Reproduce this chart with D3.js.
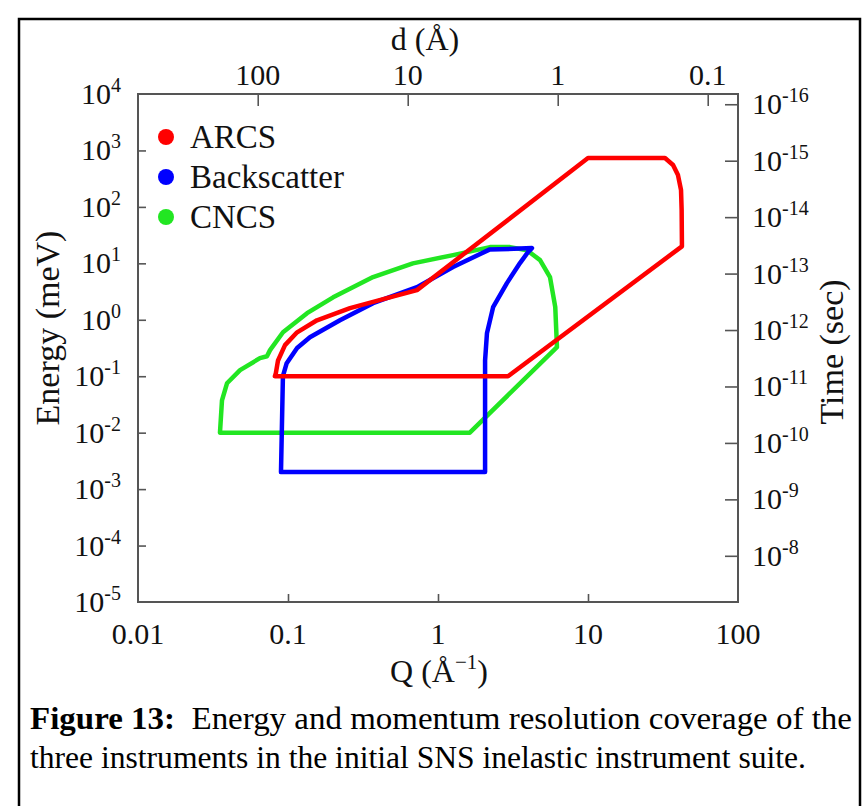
<!DOCTYPE html>
<html>
<head>
<meta charset="utf-8">
<script src="https://cdnjs.cloudflare.com/ajax/libs/d3/7.8.5/d3.min.js"></script>
<style>
  body { margin: 0; background: #fff; }
  svg { display: block; font-family: "Liberation Serif", "Times New Roman", serif; }
</style>
</head>
<body>
<svg class="container"></svg>
<script>
// tick values
const qTicks = [0.01, 0.1, 1, 10, 100];
const qLabels = ["0.01", "0.1", "1", "10", "100"];
const eExps = [4, 3, 2, 1, 0, -1, -2, -3, -4, -5];
const dTicks = [100, 10, 1, 0.1];
const dLabels = ["100", "10", "1", "0.1"];
const tExps = [-16, -15, -14, -13, -12, -11, -10, -9, -8];

// instrument coverage outlines, Q (1/A) and E (meV)
const arcsQ = [0.0818, 2.93, 42.3, 42.1, 41.7, 39.8, 36.9, 32.6, 10, 0.724, 0.457, 0.259, 0.156, 0.115, 0.0955, 0.0858, 0.083];
const arcsE = [0.1, 0.1, 20, 88, 199, 366, 551, 733, 733, 3.35, 2.42, 1.61, 0.98, 0.6, 0.355, 0.19, 0.113];

const backQ = [0.0898, 2.06, 2.06, 2.12, 2.33, 2.88, 3.52, 3.98, 4.23, 2.2, 1.26, 0.724, 0.369, 0.222, 0.14, 0.115, 0.098, 0.0925];
const backE = [0.002, 0.002, 0.19, 0.576, 1.67, 4.46, 10.1, 15.8, 18.6, 17.5, 8.6, 3.78, 1.97, 0.98, 0.49, 0.316, 0.17, 0.1];

const cncsQ = [0.0352, 1.63, 6.21, 6.05, 5.58, 4.79, 3.92, 3.02, 2.22, 1.26, 0.68, 0.369, 0.2, 0.134, 0.0926, 0.0759, 0.0724, 0.065, 0.0479, 0.0392, 0.0363];
const cncsE = [0.01, 0.01, 0.327, 1.67, 5.7, 11.4, 17.1, 19.4, 19.4, 14, 10, 5.7, 2.5, 1.31, 0.6, 0.29, 0.226, 0.209, 0.128, 0.075, 0.0375];

const names = ["ARCS", "Backscatter", "CNCS"];
const colors = ["#ff0000", "#0000ff", "#22e622"];

const hbar = 6.582e-13; // meV*s
const width = 863;
const height = 806;

const svg = d3.select(".container").attr("width", width).attr("height", height);

// outer figure frame
svg.append("rect")
  .attr("x", 19).attr("y", 19)
  .attr("width", 841).attr("height", 820)
  .attr("fill", "none").attr("stroke", "#000").attr("stroke-width", 2.5);

const x = d3.scaleLog().domain([0.01, 100]).range([138, 738]);
const y = d3.scaleLog().domain([1e-5, 1e4]).range([602, 94]);

const axisColor = "#555";
const tickFont = 30;
const supFont = 20;

// ticks
svg.append("g")
  .attr("transform", "translate(138,0)")
  .call(d3.axisLeft(y).tickValues(eExps.slice(1, -1).map((e) => Math.pow(10, e))).tickSize(-8).tickFormat(""))
  .call((g) => g.select(".domain").remove());

svg.append("g")
  .attr("transform", "translate(0,602)")
  .call(d3.axisBottom(x).tickValues([0.1, 1, 10]).tickSize(-8).tickFormat(""))
  .call((g) => g.select(".domain").remove());

svg.append("g")
  .attr("transform", "translate(0,94)")
  .call(d3.axisTop(x).tickValues(dTicks.map((d) => (2 * Math.PI) / d)).tickSize(-12).tickFormat(""))
  .call((g) => g.select(".domain").remove());

svg.append("g")
  .attr("transform", "translate(738,0)")
  .call(d3.axisRight(y).tickValues(tExps.map((t) => hbar / Math.pow(10, t))).tickSize(-13).tickFormat(""))
  .call((g) => g.select(".domain").remove());

svg.selectAll(".tick line").attr("stroke", axisColor).attr("stroke-width", 1.6);

// plot frame
svg.append("rect")
  .attr("x", 138).attr("y", 94)
  .attr("width", 600).attr("height", 508)
  .attr("fill", "none").attr("stroke", axisColor).attr("stroke-width", 2);

// left tick labels
const left = svg.append("g").attr("font-size", tickFont).attr("fill", "#111");
eExps.forEach((e) => {
  const t = left.append("text")
    .attr("x", 121).attr("y", y(Math.pow(10, e)) + 10)
    .attr("text-anchor", "end");
  t.append("tspan").text("10");
  t.append("tspan").attr("dy", -12).attr("font-size", supFont).text(e < 0 ? "-" + Math.abs(e) : String(e));
});

// right tick labels
const right = svg.append("g").attr("font-size", tickFont).attr("fill", "#111");
tExps.forEach((e) => {
  const t = right.append("text")
    .attr("x", 752).attr("y", y(hbar / Math.pow(10, e)) + 10);
  t.append("tspan").text("10");
  t.append("tspan").attr("dy", -12).attr("font-size", supFont).text("-" + Math.abs(e));
});

// bottom labels
svg.append("g").attr("font-size", tickFont).attr("fill", "#111")
  .selectAll("text").data(qTicks).join("text")
  .attr("x", (d) => x(d)).attr("y", 644)
  .attr("text-anchor", "middle")
  .text((d, i) => qLabels[i]);

// top labels
svg.append("g").attr("font-size", tickFont).attr("fill", "#111")
  .selectAll("text").data(dTicks).join("text")
  .attr("x", (d) => x((2 * Math.PI) / d)).attr("y", 85)
  .attr("text-anchor", "middle")
  .text((d, i) => dLabels[i]);

// axis titles
const qt = svg.append("text").attr("x", 439).attr("y", 682)
  .attr("text-anchor", "middle").attr("font-size", 32).attr("fill", "#111");
qt.append("tspan").text("Q (Å");
qt.append("tspan").attr("dy", -13).attr("font-size", 21).text("\u2212" + "1");
qt.append("tspan").attr("dy", 13).text(")");

svg.append("text").attr("x", 425).attr("y", 50)
  .attr("text-anchor", "middle").attr("font-size", 32).attr("fill", "#111")
  .text("d (Å)");

svg.append("text")
  .attr("transform", "translate(59,328) rotate(-90)")
  .attr("text-anchor", "middle").attr("font-size", 34).attr("fill", "#111")
  .text("Energy (meV)");

svg.append("text")
  .attr("transform", "translate(843,352) rotate(-90)")
  .attr("text-anchor", "middle").attr("font-size", 34).attr("fill", "#111")
  .text("Time (sec)");

// outlines
const line = d3.line()
  .x((d) => x(d[0]))
  .y((d) => y(d[1]))
  .curve(d3.curveLinearClosed);

const series = [
  { q: cncsQ, e: cncsE, c: colors[2] },
  { q: backQ, e: backE, c: colors[1] },
  { q: arcsQ, e: arcsE, c: colors[0] },
];

svg.append("g")
  .selectAll("path").data(series).join("path")
  .attr("d", (s) => line(s.q.map((q, i) => [q, s.e[i]])))
  .attr("fill", "none")
  .attr("stroke", (s) => s.c)
  .attr("stroke-width", 4.5)
  .attr("stroke-linejoin", "round");

// legend
const legend = svg.append("g");
names.forEach((n, i) => {
  legend.append("circle")
    .attr("cx", 166).attr("cy", 137 + i * 40).attr("r", 8)
    .attr("fill", colors[i]);
  legend.append("text")
    .attr("x", 190).attr("y", 148 + i * 40)
    .attr("font-size", 33).attr("fill", "#111")
    .text(n);
});

// caption
const cap1 = svg.append("text").attr("x", 30).attr("y", 729)
  .attr("font-size", 31).attr("fill", "#000")
  .attr("textLength", 822).attr("lengthAdjust", "spacingAndGlyphs");
cap1.append("tspan").attr("font-weight", "bold").text("Figure 13:");
cap1.append("tspan").text("\u00a0 Energy and momentum resolution coverage of the");

svg.append("text").attr("x", 30).attr("y", 768)
  .attr("font-size", 31).attr("fill", "#000")
  .attr("textLength", 776).attr("lengthAdjust", "spacingAndGlyphs")
  .text("three instruments in the initial SNS inelastic instrument suite.");
</script>
</body>
</html>
